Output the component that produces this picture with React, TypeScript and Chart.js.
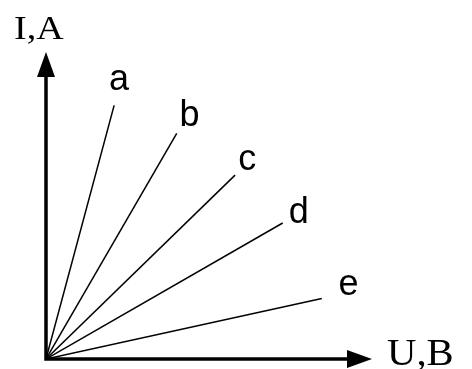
import React, { useEffect, useRef } from "react";
import { Chart, registerables } from "chart.js";

Chart.register(...registerables);

const seriesNames = ["a", "b", "c", "d", "e"];
const endU = [20.9, 40.1, 58.0, 72.6, 84.6];
const endI = [82.6, 73.5, 59.9, 44.3, 19.7];
const labelU = [22.4, 44.0, 61.7, 77.5, 92.8];
const labelI = [87.5, 76.0, 61.5, 44.4, 20.7];
const yAxisTitle = "I,A";
const xAxisTitle = "U,B";

const axesPlugin = {
  id: "axesArrows",
  afterDatasetsDraw(chart: any) {
    const ctx = chart.ctx;
    const xs = chart.scales.x;
    const ys = chart.scales.y;
    const ox = xs.getPixelForValue(0);
    const oy = ys.getPixelForValue(0);
    const xEnd = xs.getPixelForValue(100);
    const yEnd = ys.getPixelForValue(100);
    const aLen = 25;
    const aHalf = 9;
    ctx.save();
    ctx.strokeStyle = "#000";
    ctx.fillStyle = "#000";
    ctx.lineWidth = 3.5;
    ctx.lineCap = "butt";
    ctx.beginPath();
    ctx.moveTo(ox, oy + 1.75);
    ctx.lineTo(ox, yEnd + aLen - 1);
    ctx.moveTo(ox - 1.75, oy);
    ctx.lineTo(xEnd - aLen + 1, oy);
    ctx.stroke();
    ctx.beginPath();
    ctx.moveTo(ox, yEnd);
    ctx.lineTo(ox - aHalf, yEnd + aLen);
    ctx.lineTo(ox + aHalf, yEnd + aLen);
    ctx.closePath();
    ctx.fill();
    ctx.beginPath();
    ctx.moveTo(xEnd, oy);
    ctx.lineTo(xEnd - aLen, oy - aHalf);
    ctx.lineTo(xEnd - aLen, oy + aHalf);
    ctx.closePath();
    ctx.fill();

    ctx.textBaseline = "alphabetic";
    ctx.textAlign = "left";
    ctx.save();
    ctx.translate(ox - 32, yEnd - 13);
    ctx.scale(1.12, 1);
    ctx.font = "34px 'Liberation Serif', serif";
    ctx.fillText(yAxisTitle, 0, 0);
    ctx.restore();
    ctx.save();
    ctx.translate(xEnd + 15, oy + 6);
    ctx.scale(1.1, 1);
    ctx.font = "37px 'Liberation Serif', serif";
    ctx.fillText(xAxisTitle, 0, 0);
    ctx.restore();

    ctx.font = "36px 'Liberation Sans', sans-serif";
    ctx.textAlign = "center";
    seriesNames.forEach((n, i) => {
      ctx.fillText(n, xs.getPixelForValue(labelU[i]), ys.getPixelForValue(labelI[i]));
    });
    ctx.restore();
  },
};

export default function App() {
  const ref = useRef<HTMLCanvasElement>(null);
  useEffect(() => {
    document.body.style.margin = "0";
    const chart = new Chart(ref.current!, {
      type: "scatter",
      data: {
        datasets: seriesNames.map((n, i) => ({
          label: n,
          data: [
            { x: 0, y: 0 },
            { x: endU[i], y: endI[i] },
          ],
          showLine: true,
          borderColor: "#000",
          borderWidth: 1.5,
          pointRadius: 0,
          fill: false,
        })),
      },
      options: {
        animation: false,
        responsive: false,
        layout: { padding: { left: 46, right: 100, top: 52, bottom: 10 } },
        plugins: { legend: { display: false }, tooltip: { enabled: false } },
        scales: {
          x: { type: "linear", min: 0, max: 100, display: false },
          y: { type: "linear", min: 0, max: 100, display: false },
        },
      },
      plugins: [axesPlugin],
    });
    return () => chart.destroy();
  }, []);
  return (
    <div style={{ position: "absolute", left: 0, top: 0, width: 472, height: 369, background: "#fff" }}>
      <canvas ref={ref} width={472} height={369} />
    </div>
  );
}
